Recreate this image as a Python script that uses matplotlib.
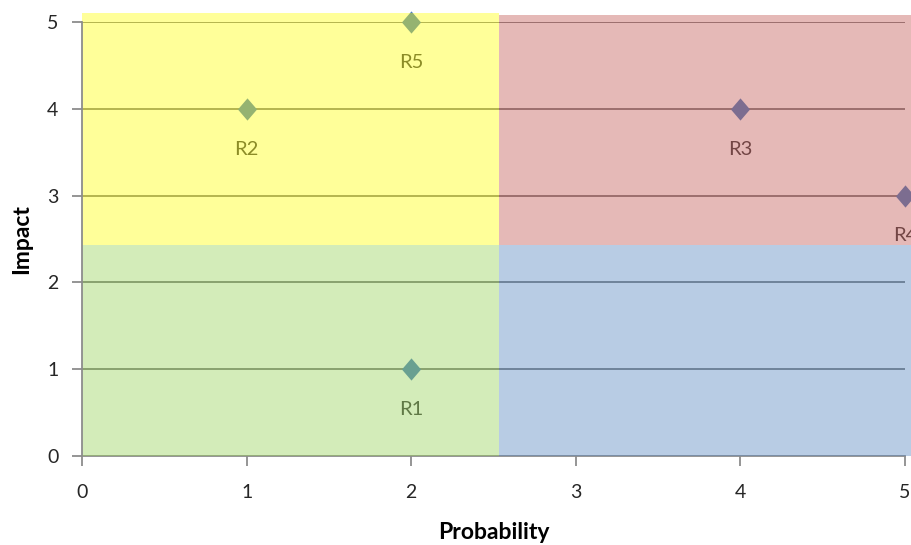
import matplotlib
matplotlib.use("Agg")
import matplotlib.pyplot as plt
from matplotlib.patches import Rectangle

# Data
risk_names = ["R1", "R2", "R3", "R4", "R5"]
probability = [2, 1, 4, 5, 2]
impact = [1, 4, 4, 3, 5]
x_ticks = [0, 1, 2, 3, 4, 5]
y_ticks = [0, 1, 2, 3, 4, 5]
x_label = "Probability"
y_label = "Impact"

# quadrant boundaries (in data units)
x_split = 2.535
y_split = 2.43

plt.rcParams['font.family'] = ['Lato', 'DejaVu Sans']

W, H = 911, 545
fig = plt.figure(figsize=(W / 100, H / 100), dpi=100)
left, right, bottom, top = 82, 905, 456, 22
ax = fig.add_axes([left / W, (H - bottom) / H, (right - left) / W, (bottom - top) / H])
ax.set_xlim(0, 5)
ax.set_ylim(0, 5)

# gridlines
for y in y_ticks[1:]:
    ax.axhline(y, color="#7a7a7a", lw=1.3, zorder=1)

# markers
diamond = [(0, 1), (0.86, 0), (0, -1), (-0.86, 0), (0, 1)]
ax.plot(probability, impact, linestyle="none", marker=diamond, markersize=16,
        color="#4F81BD", markeredgewidth=0, zorder=2, clip_on=False)

for n, px, py in zip(risk_names, probability, impact):
    ax.annotate(n, (px, py), xytext=(0, -29), textcoords="offset points",
                ha="center", va="center", fontsize=14.5, color="#404040",
                zorder=2, annotation_clip=False)

# quadrant overlay (semi-transparent, on top)
quads = [
    (0, y_split, x_split, 5.10 - y_split, "#FFFF00"),
    (x_split, y_split, 5.2 - x_split, 5.08 - y_split, "#C0504D"),
    (0, 0, x_split, y_split, "#92D050"),
    (x_split, 0, 5.2 - x_split, y_split, "#4F81BD"),
]
for x0, y0, w, h, c in quads:
    ax.add_patch(Rectangle((x0, y0), w, h, facecolor=c, edgecolor="none",
                           alpha=0.4, zorder=3, clip_on=False))

for s in ["top", "right"]:
    ax.spines[s].set_visible(False)
ax.spines["left"].set_color("#8c8c8c")
ax.spines["bottom"].set_color("#8c8c8c")
ax.spines["left"].set_linewidth(1.3)
ax.spines["bottom"].set_linewidth(1.3)
ax.spines["left"].set_zorder(5)

ax.set_xticks(x_ticks)
ax.set_yticks(y_ticks)
ax.tick_params(axis="both", direction="out", length=7, width=1.3, color="#8c8c8c",
               labelsize=14, labelcolor="#262626")
ax.tick_params(axis="y", pad=10)
ax.tick_params(axis="x", pad=13)

ax.set_xlabel(x_label, fontsize=16.5, fontweight="bold", color="black", labelpad=15)
ax.set_ylabel(y_label, fontsize=16.5, fontweight="bold", color="black", labelpad=11)

fig.savefig("out.png", dpi=100)
